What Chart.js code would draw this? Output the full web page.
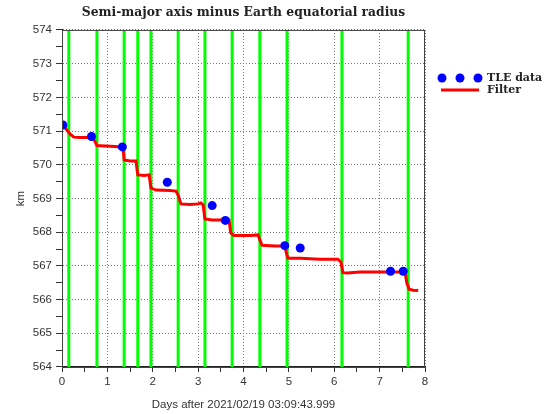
<!DOCTYPE html>
<html lang="en">
<head>
  <meta charset="UTF-8" />
  <title>Semi-major axis minus Earth equatorial radius</title>
  <script src="https://cdn.jsdelivr.net/npm/chart.js"></script>
  <style>
    body {
      margin: 0;
      background: #ffffff;
    }

    .wrap {
      width: 549px;
      height: 414px;
      position: relative;
    }
  </style>
</head>
<body>
  <div class="wrap"><canvas id="smaChart"></canvas></div>

<script>
// TLE data (blue dots)
const tleDays = [0.02, 0.65, 1.33, 2.32, 3.31, 3.60, 4.91, 5.25, 7.24, 7.52];
const tleKm = [571.18, 570.84, 570.53, 569.48, 568.79, 568.35, 567.60, 567.53, 566.84, 566.84];

// filter output (red line)
const filterDays = [0.00, 0.09, 0.18, 0.26, 0.40, 0.57, 0.68, 0.73, 0.77, 0.95, 1.17, 1.30,
  1.34, 1.37, 1.50, 1.63, 1.67, 1.81, 1.92, 1.96, 2.07, 2.38, 2.51, 2.56, 2.62, 2.82,
  3.00, 3.06, 3.11, 3.15, 3.31, 3.68, 3.72, 3.79, 4.14, 4.32, 4.36, 4.41, 4.70, 4.92,
  4.94, 4.98, 5.25, 5.69, 6.08, 6.15, 6.19, 6.28, 6.57, 7.01, 7.56, 7.60, 7.65, 7.74, 7.85];
const filterKm = [571.18, 571.06, 570.91, 570.82, 570.81, 570.81, 570.81, 570.68, 570.57, 570.56, 570.54, 570.53,
  570.53, 570.14, 570.11, 570.11, 569.70, 569.68, 569.70, 569.31, 569.25, 569.24, 569.22, 569.10, 568.84, 568.82,
  568.84, 568.87, 568.81, 568.39, 568.36, 568.36, 567.98, 567.90, 567.90, 567.92, 567.77, 567.61, 567.59, 567.59,
  567.41, 567.23, 567.23, 567.20, 567.20, 567.11, 566.80, 566.79, 566.82, 566.82, 566.82, 566.49, 566.31, 566.28, 566.27];

// green vertical markers
const markerDays = [0.15, 0.77, 1.37, 1.67, 1.96, 2.56, 3.15, 3.75, 4.36, 4.96, 6.17, 7.63];

const xMin = 0, xMax = 8;
const yMin = 564, yMax = 574;

const tickFont = { family: "'Liberation Sans', Arial, sans-serif", size: 11.5 };
const gridColor = c => (c.tick && c.tick.value % 1 === 0) ? '#777777' : 'rgba(0,0,0,0)';

const datasets = [];

datasets.push({
  label: 'TLE data',
  data: tleDays.map((d, i) => ({ x: d, y: tleKm[i] })),
  showLine: false,
  pointRadius: 4.5,
  pointBackgroundColor: '#0000ff',
  pointBorderWidth: 0
});

datasets.push({
  label: 'Filter',
  data: filterDays.map((d, i) => ({ x: d, y: filterKm[i] })),
  showLine: true,
  borderColor: '#ff0000',
  borderWidth: 3,
  pointRadius: 0,
  tension: 0
});

markerDays.forEach(d => {
  datasets.push({
    label: 'marker',
    data: [{ x: d, y: yMin }, { x: d, y: yMax }],
    showLine: true,
    borderColor: '#00ff00',
    borderWidth: 3,
    pointRadius: 0
  });
});

// box around the plot + legend on the right
const framePlugin = {
  id: 'frame',
  afterDraw(chart) {
    const { ctx, chartArea } = chart;
    ctx.save();
    ctx.strokeStyle = '#444444';
    ctx.lineWidth = 1;
    ctx.strokeRect(chartArea.left + 0.5, chartArea.top + 0.5,
      chartArea.right - chartArea.left - 1, chartArea.bottom - chartArea.top);

    // legend
    const lx = chartArea.right + 17;
    ctx.fillStyle = '#0000ff';
    [0, 18, 36].forEach(dx => {
      ctx.beginPath();
      ctx.arc(lx + dx, 78, 4.5, 0, Math.PI * 2);
      ctx.fill();
    });
    ctx.strokeStyle = '#ff0000';
    ctx.lineWidth = 3;
    ctx.beginPath();
    ctx.moveTo(lx - 1, 90);
    ctx.lineTo(lx + 37, 90);
    ctx.stroke();
    ctx.fillStyle = '#222222';
    ctx.font = "bold 11px 'DejaVu Serif', serif";
    ctx.textBaseline = 'middle';
    ctx.textAlign = 'left';
    ctx.fillText('TLE data', lx + 45, 78);
    ctx.fillText('Filter', lx + 45, 90);
    ctx.restore();
  }
};

new Chart(document.getElementById('smaChart'), {
  type: 'scatter',
  data: { datasets: datasets },
  options: {
    responsive: true,
    maintainAspectRatio: false,
    animation: false,
    layout: { padding: { right: 124 } },
    plugins: {
      legend: { display: false },
      tooltip: { enabled: false },
      title: {
        display: true,
        fullSize: false,
        text: 'Semi-major axis minus Earth equatorial radius',
        color: '#222222',
        font: { family: "'DejaVu Serif', serif", size: 12.3, weight: 'bold', lineHeight: 1.2 },
        padding: { top: 5.5, bottom: 9.7 }
      }
    },
    scales: {
      x: {
        type: 'linear',
        min: xMin,
        max: xMax,
        afterFit: s => { s.height = 47; },
        ticks: {
          stepSize: 0.5,
          autoSkip: false,
          maxRotation: 0,
          padding: 3,
          color: '#333333',
          font: tickFont,
          callback: v => (v % 1 === 0 ? v : '')
        },
        grid: {
          color: gridColor,
          tickColor: '#333333',
          tickLength: 5
        },
        border: { color: '#222222', dash: [1, 2] },
        title: {
          display: true,
          text: 'Days after 2021/02/19 03:09:43.999',
          color: '#333333',
          font: tickFont,
          padding: { top: 2, bottom: 2 }
        }
      },
      y: {
        min: yMin,
        max: yMax,
        afterFit: s => { s.width = 62; },
        ticks: {
          stepSize: 0.5,
          autoSkip: false,
          padding: 4,
          color: '#333333',
          font: tickFont,
          callback: v => (v % 1 === 0 ? v : '')
        },
        grid: {
          color: gridColor,
          tickColor: '#333333',
          tickLength: 6
        },
        border: { color: '#222222', dash: [1, 2] },
        title: {
          display: true,
          text: 'km',
          color: '#333333',
          font: tickFont,
          padding: { top: 14, bottom: 2 }
        }
      }
    }
  },
  plugins: [framePlugin]
});
</script>
</body>
</html>
